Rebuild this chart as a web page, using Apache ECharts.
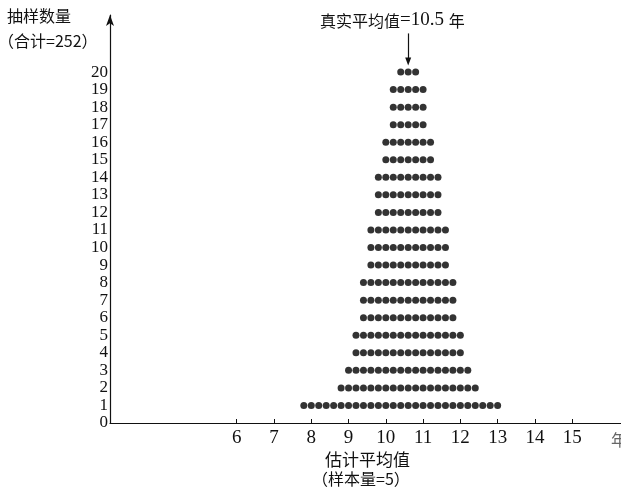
<!DOCTYPE html>
<html>
<head>
<meta charset="utf-8">
<script src="https://cdn.jsdelivr.net/npm/echarts@6/dist/echarts.min.js"></script>
<style>
html, body { margin: 0; padding: 0; background: #fff; }
#chart { width: 621px; height: 488px; }
</style>
</head>
<body>
<div id="chart"></div>
<script>
// sample means (step 0.2) and how many samples gave each mean
var means = [7.8, 8.0, 8.2, 8.4, 8.6, 8.8, 9.0, 9.2, 9.4, 9.6, 9.8, 10.0, 10.2, 10.4,
             10.6, 10.8, 11.0, 11.2, 11.4, 11.6, 11.8, 12.0, 12.2, 12.4, 12.6, 12.8, 13.0];
var freq = [1, 1, 1, 1, 1, 2, 3, 5, 8, 11, 14, 16, 19, 20,
            20, 20, 19, 16, 14, 11, 8, 5, 3, 2, 1, 1, 1];
var xTicks = [6, 7, 8, 9, 10, 11, 12, 13, 14, 15];
var yTicks = [0, 1, 2, 3, 4, 5, 6, 7, 8, 9, 10, 11, 12, 13, 14, 15, 16, 17, 18, 19, 20];
var arrowX = 10.6;

var dots = [];
means.forEach(function (m, i) {
    for (var k = 1; k <= freq[i]; k++) {
        dots.push([m, k]);
    }
});

var serif = '"Liberation Serif", "DejaVu Serif", serif';
var cjk = '"Noto Sans CJK SC", sans-serif';

var chart = echarts.init(document.getElementById('chart'));
var option = {
    backgroundColor: '#fff',
    animation: false,
    grid: { left: 110, right: 0, top: 15, bottom: 65 },
    xAxis: {
        type: 'value',
        min: 2.6,
        max: 16.31,
        splitLine: { show: false },
        axisLine: { lineStyle: { color: '#111', width: 1.2 } },
        axisTick: { inside: true, length: 4, customValues: xTicks, lineStyle: { color: '#111' } },
        axisLabel: {
            customValues: xTicks,
            margin: 6,
            color: '#111',
            fontFamily: serif,
            fontSize: 19
        }
    },
    yAxis: {
        type: 'value',
        min: 0,
        max: 23.25,
        splitLine: { show: false },
        axisLine: {
            show: true,
            symbol: ['none', 'arrow'],
            symbolSize: [6, 11],
            lineStyle: { color: '#111', width: 1.2 }
        },
        axisTick: { show: false },
        axisLabel: {
            customValues: yTicks,
            margin: 2,
            color: '#111',
            fontFamily: serif,
            fontSize: 17
        }
    },
    series: [{
        type: 'scatter',
        data: dots,
        symbol: 'circle',
        symbolSize: 7,
        itemStyle: { color: '#000' },
        markLine: {
            silent: true,
            symbol: ['none', 'triangle'],
            symbolSize: [6, 8],
            label: { show: false },
            lineStyle: { color: '#111', width: 1.2, type: 'solid' },
            data: [[{ coord: [arrowX, 22.2] }, { coord: [arrowX, 20.6] }]]
        }
    }],
    graphic: [
        { type: 'text', left: 7, top: 8, style: { text: '抽样数量', font: '16px ' + cjk, fill: '#111' } },
        { type: 'text', left: -2, top: 33, style: { text: '（合计=252）', font: '16px ' + cjk, fill: '#111' } },
        {
            type: 'text', left: 320, top: 11,
            style: {
                text: '{a|真实平均值}{b|=10.5 }{a|年}',
                rich: {
                    a: { font: '16px ' + cjk, fill: '#111', color: '#111' },
                    b: { font: '19px ' + serif, fill: '#111', color: '#111' }
                }
            }
        },
        { type: 'text', left: 325, top: 451, style: { text: '估计平均值', font: '17px ' + cjk, fill: '#111' } },
        { type: 'text', left: 312, top: 471, style: { text: '（样本量=5）', font: '16px ' + cjk, fill: '#111' } },
        { type: 'text', left: 611, top: 432, style: { text: '年', font: '16px ' + cjk, fill: '#666' } }
    ]
};
chart.setOption(option);
</script>
</body>
</html>
